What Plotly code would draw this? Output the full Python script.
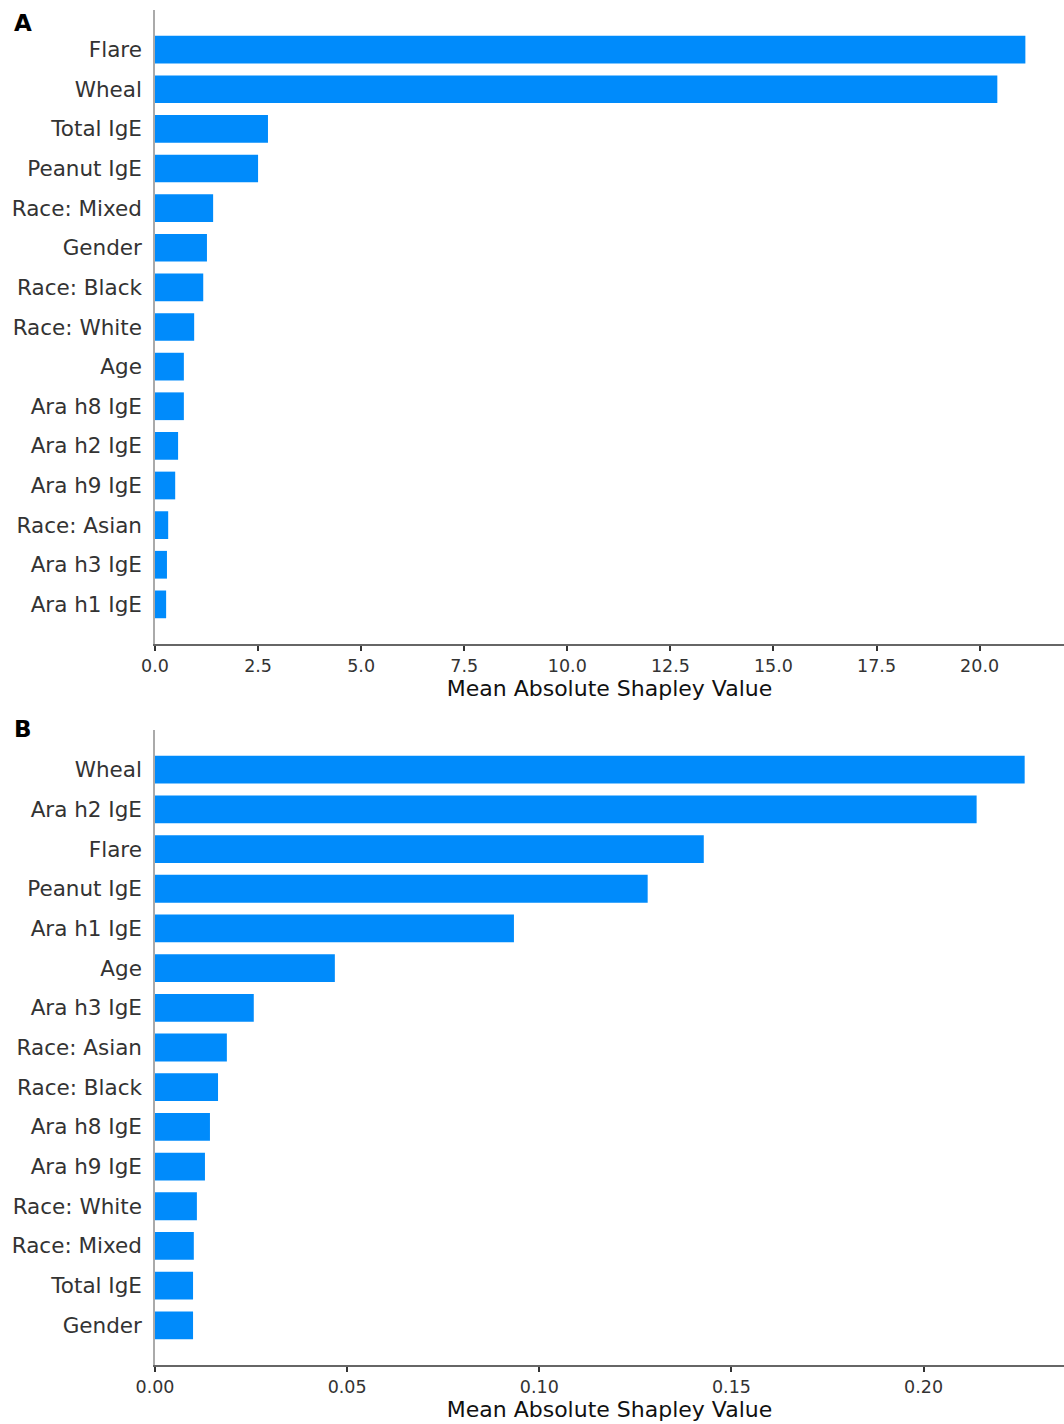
import plotly.graph_objects as go

# Panel A: mean |SHAP| per feature (ordered top to bottom)
features_a = ["Flare", "Wheal", "Total IgE", "Peanut IgE", "Race: Mixed", "Gender",
              "Race: Black", "Race: White", "Age", "Ara h8 IgE", "Ara h2 IgE",
              "Ara h9 IgE", "Race: Asian", "Ara h3 IgE", "Ara h1 IgE"]
values_a = [21.11, 20.43, 2.74, 2.50, 1.41, 1.26, 1.17, 0.95, 0.70, 0.70,
            0.56, 0.49, 0.32, 0.29, 0.27]
ticks_a = [0.0, 2.5, 5.0, 7.5, 10.0, 12.5, 15.0, 17.5, 20.0]
ticktext_a = ["0.0", "2.5", "5.0", "7.5", "10.0", "12.5", "15.0", "17.5", "20.0"]

# Panel B
features_b = ["Wheal", "Ara h2 IgE", "Flare", "Peanut IgE", "Ara h1 IgE", "Age",
              "Ara h3 IgE", "Race: Asian", "Race: Black", "Ara h8 IgE", "Ara h9 IgE",
              "Race: White", "Race: Mixed", "Total IgE", "Gender"]
values_b = [0.2263, 0.2138, 0.1428, 0.1282, 0.0934, 0.0468, 0.0257, 0.0187,
            0.0164, 0.0143, 0.0130, 0.0109, 0.0101, 0.0099, 0.0099]
ticks_b = [0.00, 0.05, 0.10, 0.15, 0.20]
ticktext_b = ["0.00", "0.05", "0.10", "0.15", "0.20"]

BAR = "#008bfb"
TXT = "#333333"
FONT = "DejaVu Sans"
W, H = 1064, 1424


def ypos(n):
    # top feature at n-1, bottom at 0
    return list(range(n - 1, -1, -1))


fig = go.Figure()
fig.add_trace(go.Bar(x=values_a, y=ypos(len(values_a)), orientation="h",
                     marker=dict(color=BAR, line=dict(width=0)), width=0.7,
                     xaxis="x", yaxis="y", showlegend=False))
fig.add_trace(go.Bar(x=values_b, y=ypos(len(values_b)), orientation="h",
                     marker=dict(color=BAR, line=dict(width=0)), width=0.7,
                     xaxis="x2", yaxis="y2", showlegend=False))

# pixel layout of the two panels
left = 155
plot_w = W - left
a_top, a_bot = 10, 644
b_top, b_bot = 730, 1365


def ydom(top, bot):
    return [1 - bot / H, 1 - top / H]


xcommon = dict(showgrid=False, zeroline=False, showline=True, linecolor="#666666",
               linewidth=2, ticks="outside", ticklen=5, tickwidth=1.5,
               tickcolor="#333333", tickfont=dict(family=FONT, size=17.5, color=TXT),
               title_font=dict(family=FONT, size=22, color="#111111"),
               title_standoff=6, domain=[0, 1])
ycommon = dict(showgrid=False, zeroline=False, showline=True, linecolor="#aaaaaa",
               linewidth=1.5, ticks="", range=[-1, 15],
               tickfont=dict(family=FONT, size=21.5, color=TXT), ticklabelstandoff=7)

fig.update_layout(
    width=W, height=H,
    margin=dict(l=left, r=0, t=0, b=0, autoexpand=False),
    plot_bgcolor="white", paper_bgcolor="white",
    xaxis=dict(xcommon, anchor="y", range=[0, plot_w / 41.23],
               tickvals=ticks_a, ticktext=ticktext_a,
               title_text="Mean Absolute Shapley Value"),
    yaxis=dict(ycommon, anchor="x", domain=ydom(a_top, a_bot),
               tickvals=ypos(len(features_a)), ticktext=features_a),
    xaxis2=dict(xcommon, anchor="y2", range=[0, plot_w / 3843.0],
                tickvals=ticks_b, ticktext=ticktext_b,
                title_text="Mean Absolute Shapley Value"),
    yaxis2=dict(ycommon, anchor="x2", domain=ydom(b_top, b_bot),
                tickvals=ypos(len(features_b)), ticktext=features_b),
    annotations=[
        dict(text="<b>A</b>", x=(12 - left) / plot_w, y=1 - 8 / H, xref="paper",
             yref="paper", xanchor="left", yanchor="top", showarrow=False,
             font=dict(family=FONT, size=23, color="black")),
        dict(text="<b>B</b>", x=(12 - left) / plot_w, y=1 - 714 / H, xref="paper",
             yref="paper", xanchor="left", yanchor="top", showarrow=False,
             font=dict(family=FONT, size=23, color="black")),
    ],
)

fig.write_html("out.html")
